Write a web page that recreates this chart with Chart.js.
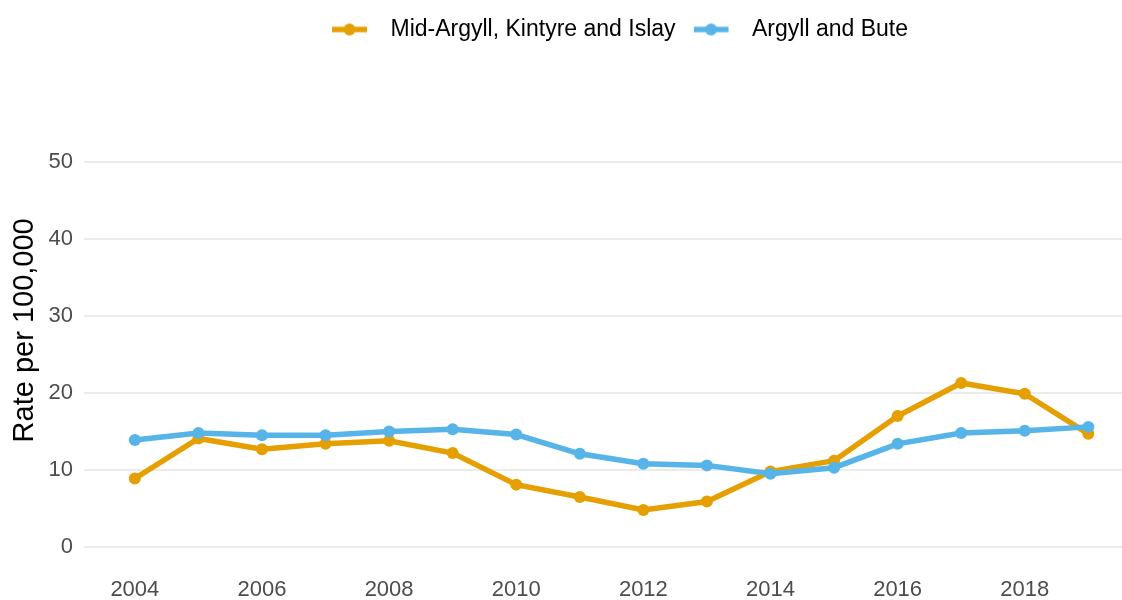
<!DOCTYPE html>
<html>
<head>
<meta charset="utf-8">
<script src="https://cdn.jsdelivr.net/npm/chart.js@4"></script>
<style>
  html, body { margin: 0; padding: 0; background: #fff; overflow: hidden; }
  #wrap { width: 1122px; height: 600px; }
</style>
</head>
<body>
<div id="wrap"><canvas id="chart"></canvas></div>
<script>
var years = [2004, 2005, 2006, 2007, 2008, 2009, 2010, 2011, 2012, 2013, 2014, 2015, 2016, 2017, 2018, 2019];
var midArgyll = [8.9, 14.1, 12.7, 13.4, 13.8, 12.2, 8.1, 6.5, 4.8, 5.9, 9.8, 11.2, 17.0, 21.3, 19.9, 14.7];
var argyllBute = [13.9, 14.8, 14.5, 14.5, 15.0, 15.3, 14.6, 12.1, 10.8, 10.6, 9.5, 10.3, 13.4, 14.8, 15.1, 15.6];
var yTicks = [0, 10, 20, 30, 40, 50];

var orange = '#E69F00';
var blue = '#56B4E9';
var font = 'Liberation Sans, Arial, sans-serif';

// little line+dot swatch for the legend
function swatch(color) {
  var c = document.createElement('canvas');
  c.width = 47; c.height = 14;
  var g = c.getContext('2d');
  g.strokeStyle = color;
  g.lineWidth = 5.5;
  g.beginPath(); g.moveTo(0, 7); g.lineTo(35, 7); g.stroke();
  g.fillStyle = color;
  g.beginPath(); g.arc(17.5, 7, 6, 0, Math.PI * 2); g.fill();
  return c;
}

function points(vals) {
  return years.map(function (y, i) { return { x: y, y: vals[i] }; });
}

// push the legend down / sideways like the original
var legendPlace = {
  id: 'legendPlace',
  beforeInit: function (chart) {
    var fit = chart.legend.fit;
    chart.legend.fit = function () {
      fit.bind(chart.legend)();
      this.height = 162;
    };
  },
  afterLayout: function (chart) {
    chart.legend.left += 56;
    chart.legend.right += 56;
  }
};

var ctx = document.getElementById('chart').getContext('2d');
var chart = new Chart(ctx, {
  type: 'line',
  data: {
    datasets: [{
      label: 'Argyll and Bute',
      data: points(argyllBute),
      borderColor: blue,
      backgroundColor: blue,
      borderWidth: 5.5,
      pointRadius: 6,
      pointBorderWidth: 0,
      pointStyle: 'circle',
      tension: 0
    }, {
      label: 'Mid-Argyll, Kintyre and Islay',
      data: points(midArgyll),
      borderColor: orange,
      backgroundColor: orange,
      borderWidth: 5.5,
      pointRadius: 6,
      pointBorderWidth: 0,
      pointStyle: 'circle',
      tension: 0
    }]
  },
  options: {
    responsive: true,
    maintainAspectRatio: false,
    animation: false,
    layout: { autoPadding: false, padding: { left: 6, right: 0, top: 0, bottom: 0 } },
    plugins: {
      tooltip: { enabled: false },
      legend: {
        position: 'top',
        reverse: true,
        labels: {
          usePointStyle: true,
          pointStyleWidth: 47,
          padding: 18,
          color: '#1a1a1a',
          font: { family: font, size: 23 },
          generateLabels: function (chart) {
            return chart.data.datasets.map(function (ds, i) {
              return {
                text: ds.label,
                fillStyle: ds.borderColor,
                strokeStyle: ds.borderColor,
                lineWidth: 0,
                pointStyle: swatch(ds.borderColor),
                datasetIndex: i,
                hidden: false
              };
            });
          }
        }
      }
    },
    scales: {
      x: {
        type: 'linear',
        min: 2003.2,
        max: 2019.53,
        grid: { display: false, drawTicks: false },
        border: { display: false },
        afterFit: function (axis) {
          axis.height = 53;
          axis.paddingLeft = 0;
          axis.paddingRight = 0;
        },
        ticks: {
          stepSize: 2,
          includeBounds: false,
          padding: 30,
          color: '#4d4d4d',
          font: { family: font, size: 22 },
          callback: function (v) { return String(v); }
        }
      },
      y: {
        min: yTicks[0],
        max: yTicks[yTicks.length - 1],
        afterBuildTicks: function (axis) {
          axis.ticks = yTicks.map(function (v) { return { value: v }; });
        },
        afterFit: function (axis) {
          axis.width = 78;
        },
        grid: { color: '#ebebeb', lineWidth: 2, drawTicks: false },
        border: { display: false },
        ticks: {
          padding: 11,
          color: '#4d4d4d',
          font: { family: font, size: 22 }
        },
        title: {
          display: true,
          text: '      Rate per 100,000',
          color: '#000',
          padding: { top: 2, bottom: 6 },
          font: { family: font, size: 29 }
        }
      }
    }
  },
  plugins: [legendPlace]
});
</script>
</body>
</html>
